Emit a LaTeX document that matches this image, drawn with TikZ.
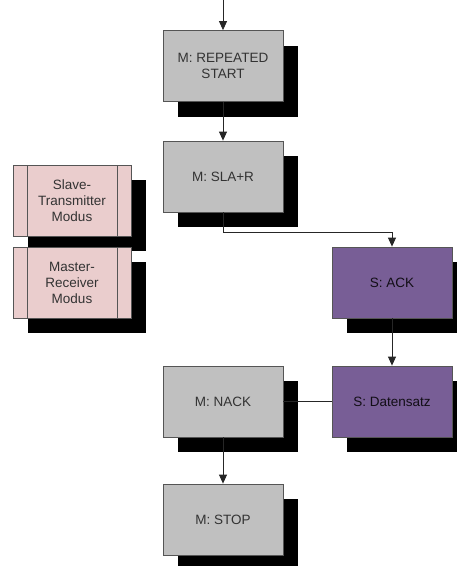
\documentclass[tikz,border=0pt]{standalone}
\usepackage{fontspec}
\setmainfont{Liberation Sans}
\usetikzlibrary{shadows,arrows.meta}

\definecolor{boxgrey}{RGB}{192,192,192}
\definecolor{slavepurple}{RGB}{120,94,150}
\definecolor{modepink}{RGB}{234,205,205}
\definecolor{edgegrey}{RGB}{85,85,85}

\tikzset{
  box/.style={draw=edgegrey,line width=0.8pt,minimum width=120pt,minimum height=71pt,
    inner sep=0pt,align=center,text=black!80,
    font=\fontsize{13.5}{16}\selectfont,
    drop shadow={shadow xshift=15pt,shadow yshift=-15pt,fill=black,opacity=1}},
  master/.style={box,fill=boxgrey},
  slave/.style={box,fill=slavepurple,text=black!85!slavepurple},
  mode/.style={box,fill=modepink,minimum width=118pt,
    path picture={
      \draw[edgegrey,line width=0.8pt]
        ([xshift=14pt]path picture bounding box.north west) -- ([xshift=14pt]path picture bounding box.south west)
        ([xshift=-14pt]path picture bounding box.north east) -- ([xshift=-14pt]path picture bounding box.south east);
    }},
  flow/.style={draw=black!85,line width=0.8pt,-{Triangle[width=8pt,length=9pt]}}
}

\begin{document}
\begin{tikzpicture}[x=1pt,y=-1pt]

  \useasboundingbox (0,0) rectangle (457,566);

  % mode legend on the left
  \node (slavetx) at (72,200.5) [mode] {Slave-\\Transmitter\\Modus};
  \node (masterrx) at (72,282.5) [mode] {Master-\\Receiver\\Modus};

  % read sequence
  \coordinate (entry) at (223,0);
  \node (rstart) at (223,66) [master] {M: REPEATED\\START};
  \node (slar) at (223,176.5) [master] {M: SLA+R};
  \node (ack) at (392,282.5) [slave] {S: ACK};
  \node (daten) at (392,401.5) [slave] {S: Datensatz};
  \node (nack) at (223,401.5) [master] {M: NACK};
  \node (stop) at (223,519.5) [master] {M: STOP};

  \draw[flow] (entry) -- (rstart);
  \draw[flow] (rstart) -- (slar);
  \draw[flow] (slar.south) -- ++(0,20) -| (ack.north);
  \draw[flow] (ack) -- (daten);
  \draw[draw=black!85,line width=0.8pt] (nack) -- (daten);
  \draw[flow] (nack) -- (stop);

\end{tikzpicture}
\end{document}
